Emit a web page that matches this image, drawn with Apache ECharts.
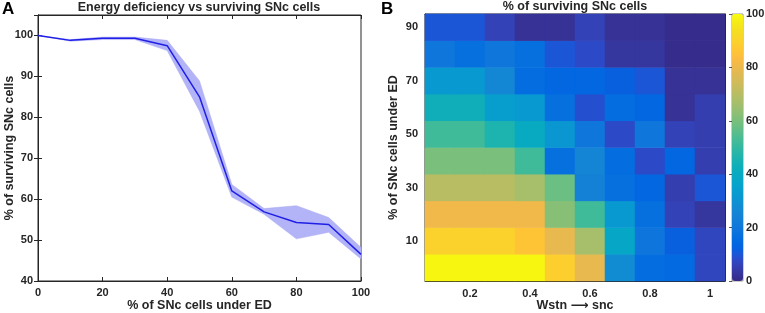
<!DOCTYPE html>
<html><head><meta charset="utf-8">
<script src="https://cdn.jsdelivr.net/npm/echarts@6/dist/echarts.min.js"></script>
<style>html,body{margin:0;padding:0;background:#fff}#c{width:765px;height:313px}</style>
</head><body><div id="c"></div>
<script>
// ---- Panel A data ----
const edLevels = [0, 10, 20, 30, 40, 50, 60, 70, 80, 90, 100];
const survivingMean  = [100, 98.8, 99.3, 99.3, 97.5, 85.0, 62.0, 56.9, 54.3, 53.8, 46.5];
const survivingLower = [100, 98.6, 99.0, 99.0, 96.3, 81.5, 60.5, 56.3, 50.3, 51.9, 45.4];
const survivingUpper = [100, 99.0, 99.6, 99.6, 98.8, 88.9, 63.6, 57.7, 58.4, 55.5, 48.2];

// ---- Panel B data ----
const wstnLevels = ['0.1', '0.2', '0.3', '0.4', '0.5', '0.6', '0.7', '0.8', '0.9', '1'];
const edRows = ['0', '10', '20', '30', '40', '50', '60', '70', '80', '90'];
const row0  = [99, 99, 99, 99, 89, 79, 28, 16, 15, 7];
const row10 = [90, 90, 90, 86, 79, 67, 38, 19, 12, 7];
const row20 = [81, 81, 81, 81, 62, 52, 32, 17, 6, 3];
const row30 = [70, 70, 70, 67, 58, 24, 17, 14, 5, 10];
const row40 = [60, 60, 60, 52, 17, 25, 16, 8, 14, 5];
const row50 = [52, 52, 46, 40, 31, 20, 8, 20, 6, 5];
const row60 = [43, 43, 34, 32, 17, 9, 16, 14, 2, 5];
const row70 = [32, 32, 26, 16, 14, 14, 12, 10, 2, 2];
const row80 = [20, 17, 20, 17, 10, 8, 3, 3, 0.5, 0.5];
const row90 = [10, 10, 6, 2, 2, 6, 2, 2, 0.5, 0.5];
const survivalRows = [row0, row10, row20, row30, row40, row50, row60, row70, row80, row90];
const colorbarTicks = [0, 20, 40, 60, 80, 100];

// parula colormap
const parula = [[0.2081,0.1663,0.5292],[0.2116,0.1898,0.5777],[0.2123,0.2138,0.6270],[0.2081,0.2386,0.6771],[0.1959,0.2645,0.7279],[0.1707,0.2919,0.7792],[0.1253,0.3242,0.8303],[0.0591,0.3598,0.8683],[0.0117,0.3875,0.8820],[0.0060,0.4086,0.8828],[0.0165,0.4266,0.8786],[0.0329,0.4430,0.8720],[0.0498,0.4586,0.8641],[0.0629,0.4737,0.8554],[0.0723,0.4887,0.8467],[0.0779,0.5040,0.8384],[0.0793,0.5200,0.8312],[0.0749,0.5375,0.8263],[0.0641,0.5570,0.8240],[0.0488,0.5772,0.8228],[0.0343,0.5966,0.8199],[0.0265,0.6137,0.8135],[0.0239,0.6287,0.8038],[0.0231,0.6418,0.7913],[0.0228,0.6535,0.7768],[0.0267,0.6642,0.7607],[0.0384,0.6743,0.7436],[0.0590,0.6838,0.7254],[0.0843,0.6928,0.7062],[0.1133,0.7015,0.6859],[0.1453,0.7098,0.6646],[0.1801,0.7177,0.6424],[0.2178,0.7250,0.6193],[0.2586,0.7317,0.5954],[0.3022,0.7376,0.5712],[0.3482,0.7424,0.5473],[0.3953,0.7459,0.5244],[0.4420,0.7481,0.5033],[0.4871,0.7491,0.4840],[0.5300,0.7491,0.4661],[0.5709,0.7485,0.4494],[0.6099,0.7473,0.4337],[0.6473,0.7456,0.4188],[0.6834,0.7435,0.4044],[0.7184,0.7411,0.3905],[0.7525,0.7384,0.3768],[0.7858,0.7356,0.3633],[0.8185,0.7327,0.3498],[0.8507,0.7299,0.3360],[0.8824,0.7274,0.3217],[0.9139,0.7258,0.3063],[0.9450,0.7261,0.2886],[0.9739,0.7314,0.2666],[0.9938,0.7455,0.2403],[0.9990,0.7653,0.2164],[0.9955,0.7861,0.1967],[0.9880,0.8066,0.1794],[0.9789,0.8271,0.1633],[0.9697,0.8481,0.1475],[0.9626,0.8705,0.1309],[0.9589,0.8949,0.1132],[0.9598,0.9218,0.0948],[0.9661,0.9514,0.0755],[0.9763,0.9831,0.0538]]
  .map(c => 'rgb(' + c.map(v => Math.round(v * 255)).join(',') + ')');

const FONT = 'Liberation Sans, Arial, DejaVu Sans, sans-serif';
const INK = '#262626';
const lab = { fontFamily: FONT, fontWeight: 'bold', fontSize: 11, color: INK };
const nameStyle = { fontFamily: FONT, fontWeight: 'bold', fontSize: 12.5, color: INK };
const axLine = { show: true, lineStyle: { color: INK, width: 1 } };
const tickIn = { show: true, inside: true, length: 4, lineStyle: { color: INK } };
const oddIdx = (i) => i % 2 === 1;

const heatData = [];
survivalRows.forEach((row, yi) => row.forEach((v, xi) => heatData.push([xi, yi, v])));

const bandData = edLevels.map((x, i) => [x, survivingLower[i], survivingUpper[i]]);
const meanData = edLevels.map((x, i) => [x, survivingMean[i]]);

function renderBand(params, api) {
  if (params.dataIndex !== 0) return null;
  const pts = [];
  for (let i = 0; i < bandData.length; i++) pts.push(api.coord([bandData[i][0], bandData[i][2]]));
  for (let i = bandData.length - 1; i >= 0; i--) pts.push(api.coord([bandData[i][0], bandData[i][1]]));
  return {
    type: 'polygon',
    shape: { points: pts },
    style: { fill: '#b3b3f7', stroke: '#a8a8f2', lineWidth: 0.5 }
  };
}

const chart = echarts.init(document.getElementById('c'), null, { renderer: 'canvas' });
chart.setOption({
  animation: false,
  backgroundColor: '#fff',
  title: [
    { text: 'A', left: 2, top: 1, padding: 0, textStyle: { fontFamily: FONT, fontWeight: 'bold', fontSize: 17, color: '#000' } },
    { text: 'B', left: 381, top: 1, padding: 0, textStyle: { fontFamily: FONT, fontWeight: 'bold', fontSize: 17, color: '#000' } },
    { text: 'Energy deficiency vs surviving SNc cells', left: 199, textAlign: 'center', top: 1, padding: 0, textStyle: { fontFamily: FONT, fontWeight: 'bold', fontSize: 12.5, color: INK } },
    { text: '% of surviving SNc cells', left: 575, textAlign: 'center', top: 0, padding: 0, textStyle: { fontFamily: FONT, fontWeight: 'bold', fontSize: 12.5, color: INK } }
  ],
  grid: [
    { left: 38, top: 15, width: 323, height: 266, outerBoundsMode: 'none', containLabel: false, show: true, borderColor: INK, borderWidth: 1, backgroundColor: 'transparent' },
    { left: 425, top: 14, width: 300, height: 267, outerBoundsMode: 'none', containLabel: false, show: true, borderColor: INK, borderWidth: 1, backgroundColor: 'transparent' },
    { left: 732, top: 14, width: 11, height: 267, outerBoundsMode: 'none', containLabel: false, show: true, borderColor: '#999', borderWidth: 1, backgroundColor: 'transparent' }
  ],
  xAxis: [
    { gridIndex: 0, type: 'value', min: 0, max: 100, interval: 20, position: 'bottom',
      name: '% of SNc cells under ED', nameLocation: 'middle', nameGap: 18, nameMoveOverlap: false, nameTextStyle: nameStyle,
      axisLine: axLine, axisTick: tickIn, splitLine: { show: false }, axisLabel: Object.assign({ margin: 6 }, lab) },
    { gridIndex: 0, type: 'value', min: 0, max: 100, interval: 20, position: 'top',
      axisLine: axLine, axisTick: tickIn, splitLine: { show: false }, axisLabel: { show: false } },
    { gridIndex: 1, type: 'category', data: wstnLevels, position: 'bottom',
      name: 'Wstn \u27F6 snc', nameLocation: 'middle', nameGap: 18, nameMoveOverlap: false, nameTextStyle: nameStyle,
      axisLine: axLine, axisTick: Object.assign({ alignWithLabel: true, interval: oddIdx }, tickIn),
      splitLine: { show: false }, axisLabel: Object.assign({ margin: 7, interval: oddIdx }, lab) },
    { gridIndex: 1, type: 'category', data: wstnLevels, position: 'top',
      axisLine: axLine, axisTick: Object.assign({ alignWithLabel: true, interval: oddIdx }, tickIn),
      splitLine: { show: false }, axisLabel: { show: false } },
    { gridIndex: 2, type: 'value', min: 0, max: 1, show: false }
  ],
  yAxis: [
    { gridIndex: 0, type: 'value', min: 40, max: 105, interval: 10, position: 'left',
      name: '% of surviving SNc cells', nameLocation: 'middle', nameGap: 22, nameMoveOverlap: false, nameTextStyle: nameStyle,
      axisLine: axLine, axisTick: tickIn, splitLine: { show: false },
      axisLabel: Object.assign({ margin: 5, showMaxLabel: false }, lab) },
    { gridIndex: 0, type: 'value', min: 40, max: 105, interval: 10, position: 'right',
      axisLine: axLine, axisTick: tickIn, splitLine: { show: false }, axisLabel: { show: false } },
    { gridIndex: 1, type: 'category', data: edRows, position: 'left',
      name: '% of SNc cells under ED', nameLocation: 'middle', nameGap: 25, nameMoveOverlap: false, nameTextStyle: nameStyle,
      axisLine: axLine, axisTick: Object.assign({ alignWithLabel: true, interval: oddIdx }, tickIn),
      splitLine: { show: false }, axisLabel: Object.assign({ margin: 7, interval: oddIdx }, lab) },
    { gridIndex: 1, type: 'category', data: edRows, position: 'right',
      axisLine: axLine, axisTick: Object.assign({ alignWithLabel: true, interval: oddIdx }, tickIn),
      splitLine: { show: false }, axisLabel: { show: false } },
    { gridIndex: 2, type: 'value', min: colorbarTicks[0], max: colorbarTicks[colorbarTicks.length - 1], interval: 20, position: 'right',
      axisLine: { show: true, lineStyle: { color: '#999' } },
      axisTick: { show: true, inside: true, length: 3, lineStyle: { color: '#555' } },
      splitLine: { show: false }, axisLabel: Object.assign({ margin: 3 }, lab) }
  ],
  visualMap: {
    type: 'continuous', seriesIndex: 2, min: 0, max: 100, calculable: false,
    left: 732, top: 14, itemWidth: 11, itemHeight: 267, padding: 0, text: null, showLabel: false,
    inRange: { color: parula }, textStyle: { color: 'transparent' }
  },
  series: [
    { type: 'custom', xAxisIndex: 0, yAxisIndex: 0, data: bandData, renderItem: renderBand, silent: true,
      encode: { x: 0, y: [1, 2] } },
    { type: 'line', xAxisIndex: 0, yAxisIndex: 0, data: meanData, symbol: 'none',
      lineStyle: { color: '#1f1fe8', width: 1.5 }, silent: true },
    { type: 'heatmap', xAxisIndex: 2, yAxisIndex: 2, data: heatData, silent: true, progressive: 0,
      itemStyle: { borderWidth: 0 } }
  ]
});
</script>
</body></html>
